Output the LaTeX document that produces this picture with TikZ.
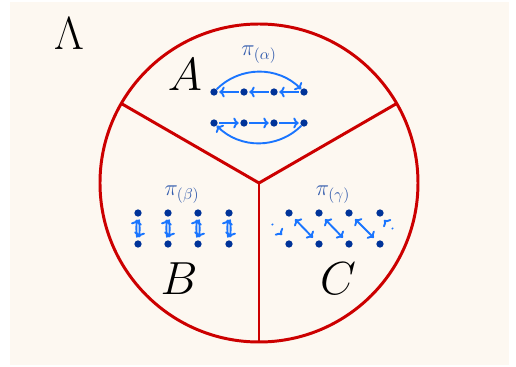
\documentclass[tikz,border=0pt]{standalone}
\usepackage{amsmath,amssymb}
\usepackage{xcolor}
\usetikzlibrary{arrows.meta, calc}
\definecolor{cream}{RGB}{253,248,241}
\definecolor{cellred}{RGB}{204,0,0}
\definecolor{dotblue}{RGB}{0,51,153}
\definecolor{arrblue}{RGB}{26,117,255}
\tikzset{
  site/.style={circle, fill=dotblue, inner sep=0pt, minimum size=5.4pt},
  region/.style={font=\Huge, text=black, scale=1.38, transform shape},
  perm/.style={font=\Large, text=dotblue!80, scale=1.15, transform shape},
  hop/.style={-{To[length=4pt, width=8pt]}, draw=arrblue, line width=1.4pt},
  dhop/.style={{To[length=4pt, width=8pt]}-{To[length=4pt, width=8pt]},
               draw=arrblue, line width=1.4pt},
  wall/.style={draw=cellred, line width=2.2pt},
}

\begin{document}
\begin{tikzpicture}[x=0.026cm, y=0.026cm]
  % page and background
  \useasboundingbox (-259,-184) rectangle (257,183);
  \fill[cream] (-249,-182) rectangle (250,181);

  % circle cut into three cells
  \draw[wall] (0,0) circle (159);
  \draw[wall] (0,0) -- (150:159);
  \draw[wall] (0,0) -- (30:159);
  \draw[wall] (0,0) -- (270:159);

  % labels
  \node[region] (lam) at (-190,149) {$\Lambda$};
  \node[region] (labA) at (-74,108) {$A$};
  \node[region] (labB) at (-80,-96) {$B$};
  \node[region] (labC) at (79,-96) {$C$};
  \node[perm] (pa) at (0,128) {$\pi_{(\alpha)}$};
  \node[perm] (pb) at (-77,-12) {$\pi_{(\beta)}$};
  \node[perm] (pc) at (74,-12) {$\pi_{(\gamma)}$};

  % sites of A
  \foreach \i/\x in {1/-45,2/-15,3/15,4/45} {
    \node[site] (at\i) at (\x,91) {};
    \node[site] (ab\i) at (\x,60) {};
  }
  % sites of B and C
  \foreach \i/\x in {1/-121,2/-91,3/-61,4/-30} {
    \node[site] (bt\i) at (\x,-30) {};
    \node[site] (bb\i) at (\x,-61) {};
  }
  \foreach \i/\x in {1/30,2/60,3/90,4/121} {
    \node[site] (ct\i) at (\x,-30) {};
    \node[site] (cb\i) at (\x,-61) {};
  }

  % hops in A
  \foreach \i/\j in {1/2,2/3,3/4} {
    \draw[hop, shorten <=1pt, shorten >=1pt] (at\j) -- (at\i);
    \draw[hop, shorten <=1pt, shorten >=1pt] (ab\i) -- (ab\j);
  }
  \draw[hop] (at1) to[bend left=45] (at4);
  \draw[hop] (ab4) to[bend left=45] (ab1);

  % hops in B
  \foreach \i in {1,...,4} {
    \draw[hop, shorten <=2pt, shorten >=2pt] (bt\i) to[bend left=8] (bb\i);
    \draw[hop, shorten <=2pt, shorten >=2pt] (bb\i) to[bend left=8] (bt\i);
  }

  % hops in C
  \foreach \i/\j in {1/2,2/3,3/4} {
    \draw[dhop, shorten <=3.5pt, shorten >=3.5pt] (ct\i) -- (cb\j);
  }
  \coordinate (cl0) at (13,-41);
  \coordinate (cl1) at (23,-52);
  \coordinate (cr0) at (134,-46);
  \coordinate (cr1) at (125,-37);
  \draw[hop, dash pattern=on 1pt off 20pt] (cl0) -- (cl1);
  \draw[hop, dash pattern=on 1pt off 20pt] (cr0) -- (cr1);
\end{tikzpicture}
\end{document}
